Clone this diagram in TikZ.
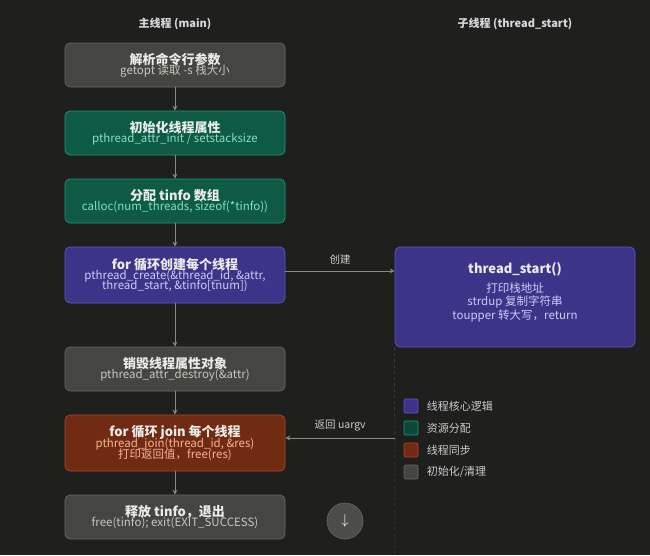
\documentclass[tikz,border=0pt]{standalone}
\usepackage{fontspec}
\setmainfont{Noto Sans CJK SC}
\usetikzlibrary{positioning,arrows.meta}
\definecolor{bg}{HTML}{1F1F1E}
\definecolor{grayfill}{HTML}{454541}
\definecolor{graydraw}{HTML}{6A6A64}
\definecolor{graytext}{HTML}{C8C8C0}
\definecolor{tealfill}{HTML}{0E5A47}
\definecolor{tealdraw}{HTML}{1D9A78}
\definecolor{tealtext}{HTML}{7FE3C0}
\definecolor{purpfill}{HTML}{3C3489}
\definecolor{purpdraw}{HTML}{5E55C8}
\definecolor{purptext}{HTML}{CECBF6}
\definecolor{redfill}{HTML}{712B13}
\definecolor{reddraw}{HTML}{A8492A}
\definecolor{redtext}{HTML}{F5B496}
\definecolor{arrowc}{HTML}{8A8A84}
\tikzset{
  box/.style={rounded corners=5pt, line width=0.7pt, minimum width=220pt, align=center, inner sep=0pt},
  grbox/.style={box, fill=grayfill, draw=graydraw},
  tlbox/.style={box, fill=tealfill, draw=tealdraw},
  ppbox/.style={box, fill=purpfill, draw=purpdraw},
  rdbox/.style={box, fill=redfill, draw=reddraw},
  flow/.style={draw=arrowc, line width=0.8pt, -{Stealth[length=5pt,width=5pt,open]}},
  hd/.style={text=white!85!black, font=\fontsize{11}{13}\selectfont\bfseries},
  key/.style={rounded corners=2pt, line width=0.7pt, minimum size=14pt, inner sep=0pt},
  keytxt/.style={text=white!80!black, font=\fontsize{11}{13}\selectfont, anchor=west}
}
\newcommand{\boxttl}[1]{{\fontsize{13}{15}\selectfont\bfseries\color{white!92!black}#1}}
\newcommand{\boxsub}[2]{{\fontsize{11.5}{12.5}\selectfont\color{#1}#2}}
\begin{document}
\begin{tikzpicture}[x=1pt,y=-1pt]
\fill[bg] (0,0) rectangle (650,555);
\useasboundingbox (0,0) rectangle (650,555);

\node[hd] (hmain) at (175,24) {主线程 (main)};
\node[hd] (hsub) at (515,24) {子线程 (thread\_start)};

% main thread
\node[grbox, minimum height=44pt] (parse) at (175,65) {\boxttl{解析命令行参数}\\[-2pt]\boxsub{graytext}{getopt 读取 -s 栈大小}};
\node[tlbox, minimum height=44pt] (init) at (175,133) {\boxttl{初始化线程属性}\\[-2pt]\boxsub{tealtext}{pthread\_attr\_init / setstacksize}};
\node[tlbox, minimum height=44pt] (alloc) at (175,201) {\boxttl{分配 tinfo 数组}\\[-2pt]\boxsub{tealtext}{calloc(num\_threads, sizeof(*tinfo))}};
\node[ppbox, minimum height=56pt] (create) at (175,275) {\boxttl{for 循环创建每个线程}\\[-2pt]\boxsub{purptext}{pthread\_create(\&thread\_id, \&attr,}\\[-3pt]\boxsub{purptext}{thread\_start, \&tinfo[tnum])}};
\node[grbox, minimum height=44pt] (destroy) at (175,369) {\boxttl{销毁线程属性对象}\\[-2pt]\boxsub{graytext}{pthread\_attr\_destroy(\&attr)}};
\node[rdbox, minimum height=56pt] (join) at (175,443) {\boxttl{for 循环 join 每个线程}\\[-2pt]\boxsub{redtext}{pthread\_join(thread\_id, \&res)}\\[-3pt]\boxsub{redtext}{打印返回值，free(res)}};
\node[grbox, minimum height=44pt] (release) at (175,517) {\boxttl{释放 tinfo，退出}\\[-2pt]\boxsub{graytext}{free(tinfo); exit(EXIT\_SUCCESS)}};

% child thread
\node[ppbox, minimum width=240pt, minimum height=100pt] (tstart) at (515,297) {};
\node (ttl) at (515,269) {\boxttl{thread\_start()}};
\node[align=center, below=0pt of ttl] (tbody) {\boxsub{purptext}{打印栈地址}\\[1pt]\boxsub{purptext}{strdup 复制字符串}\\[1pt]\boxsub{purptext}{toupper 转大写，return}};

\draw[flow] (parse) -- (init);
\draw[flow] (init) -- (alloc);
\draw[flow] (alloc) -- (create);
\draw[flow] (create) -- (destroy);
\draw[flow] (destroy) -- (join);
\draw[flow] (join) -- (release);
\draw[flow] (create.east |- 0,271) -- node[above=3pt, text=white!80!black, font=\fontsize{10.5}{12}\selectfont] {创建} (tstart.west |- 0,271);

\coordinate (rtn) at (395,438);
\draw[graydraw!60!bg, dashed, line width=0.5pt] (tstart.south west) -- (395,598);
\draw[flow] (rtn) -- node[above=3pt, text=white!80!black, font=\fontsize{10.5}{12}\selectfont] {返回 uargv} (join.east |- rtn);

% legend
\node[key, fill=purpfill, draw=purpdraw] (k1) at (411,406) {};
\node[keytxt, right=5pt of k1] {线程核心逻辑};
\node[key, fill=tealfill!80!black, draw=tealdraw] (k2) at (411,428) {};
\node[keytxt, right=5pt of k2] {资源分配};
\node[key, fill=redfill, draw=reddraw] (k3) at (411,450) {};
\node[keytxt, right=5pt of k3] {线程同步};
\node[key, fill=grayfill, draw=graydraw] (k4) at (411,472) {};
\node[keytxt, right=5pt of k4] {初始化/清理};

% scroll button
\node[circle, minimum size=36pt, fill=bg!80!white, draw=graydraw, line width=0.6pt, text=white, font=\fontsize{14}{14}\selectfont] (down) at (345,521) {$\downarrow$};
\end{tikzpicture}
\end{document}
